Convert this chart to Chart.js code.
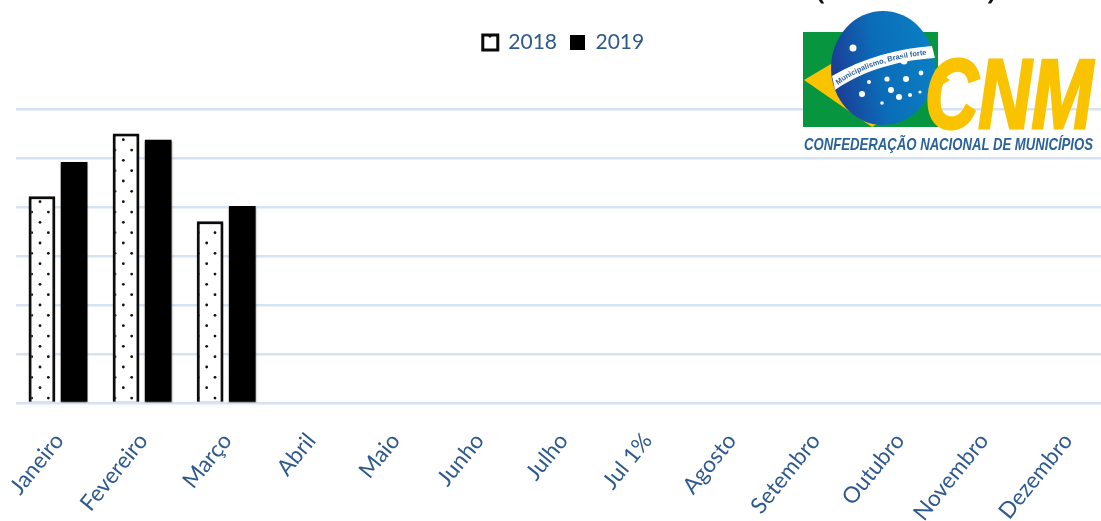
<!DOCTYPE html>
<html lang="pt"><head><meta charset="utf-8">
<style>
html,body{margin:0;padding:0;background:#fff;overflow:hidden}
#wrap{position:relative;width:1101px;height:521px;overflow:hidden}
canvas{position:absolute;left:0;top:0;filter:blur(.45px)}
svg{position:absolute;left:0;top:0;filter:blur(.4px)}
</style>
<script src="https://cdn.jsdelivr.net/npm/chart.js@4"></script>
</head><body>
<div id="wrap">
<canvas id="c" width="1109" height="521"></canvas>
<svg width="1101" height="521" viewBox="0 0 1101 521">
  <defs>
    <linearGradient id="gl" x1="0" x2="1" y1="0.6" y2="0.4">
      <stop offset="0" stop-color="#1c3a94"/><stop offset=".45" stop-color="#0b6cb8"/><stop offset="1" stop-color="#0a7fc4"/>
    </linearGradient>
    <path id="band" d="M838 85 C 862 66 900 57 934 54"/>
  </defs>
  <text x="815" y="-2" font-family="Open Sans" font-size="33" font-weight="600" fill="#111" textLength="182" lengthAdjust="spacingAndGlyphs">(R$ bilhões)</text>
  <rect x="803" y="32" width="135" height="95" fill="#07953f"/>
  <polygon points="804,80 883,33 950,80 872,127" fill="#f9c300"/>
  <ellipse cx="883" cy="68" rx="52" ry="57" fill="url(#gl)"/>
  <path d="M832 76 C 862 58 900 48 932 46 L935 58 C 900 60 864 70 835 90 Z" fill="#fff"/>
  <text font-family="Liberation Sans" font-size="7.4" fill="#2b5f9c" font-weight="700"><textPath href="#band">Municipalismo, Brasil forte</textPath></text>
  <g fill="#fff">
    <circle cx="853" cy="48" r="3.5"/><circle cx="904" cy="61" r="3.5"/><circle cx="869" cy="82" r="2"/>
    <circle cx="887" cy="79" r="2.6"/><circle cx="906" cy="79" r="3"/><circle cx="921" cy="73" r="2.4"/>
    <circle cx="891" cy="90" r="3"/><circle cx="899" cy="97" r="3"/><circle cx="910" cy="95" r="2"/>
    <circle cx="920" cy="92" r="1.6"/><circle cx="862" cy="94" r="3"/><circle cx="882" cy="103" r="1.8"/>
  </g>
  <text x="925" y="128" font-family="Liberation Sans" font-size="99" font-weight="700" font-style="italic" fill="#f9c300" stroke="#f9c300" stroke-width="3" textLength="168" lengthAdjust="spacingAndGlyphs">CNM</text>
  <text x="804" y="150" font-family="Liberation Sans" font-size="17" font-style="italic" font-weight="700" fill="#2a6399" textLength="289" lengthAdjust="spacingAndGlyphs">CONFEDERAÇÃO NACIONAL DE MUNICÍPIOS</text>
</svg>
</div>
<script>
const categories = ["Janeiro","Fevereiro","Março","Abril","Maio","Junho","Julho","Jul 1%","Agosto","Setembro","Outubro","Novembro","Dezembro"];
const values2018 = [4.22,5.5,3.71];
const values2019 = [4.92,5.37,4.02];
const seriesNames = ["2018","2019"];
const yTicks = [0,1,2,3,4,5,6];

function dots(){
  const t=document.createElement('canvas');t.width=50;t.height=62;
  const g=t.getContext('2d');g.fillStyle='#fff';g.fillRect(0,0,50,62);g.fillStyle='#111';
  for(let i=0;i<6;i++){
    const y=15.7+10.33*i;
    for(let k=-1;k<4;k++){
      const x=6.67+(i%2?8.33:0)+16.67*k;
      g.beginPath();g.arc(x,y%62,1.4,0,7);g.fill();
    }
  }
  return g.createPattern(t,'repeat');
}
const ctx=document.getElementById('c').getContext('2d');
const textColor='#2f5a8f';
new Chart(ctx,{
  type:'bar',
  data:{labels:categories,datasets:[
    {label:seriesNames[0],data:values2018,backgroundColor:dots(),borderColor:'#0a0a0a',borderWidth:3,borderSkipped:'bottom'},
    {label:seriesNames[1],data:values2019,backgroundColor:'#000',borderColor:'#000',borderWidth:0}
  ]},
  options:{
    responsive:false,animation:false,
    layout:{padding:{left:16,right:0,top:0,bottom:0},autoPadding:false},
    datasets:{bar:{categoryPercentage:.765,barPercentage:.83}},
    plugins:{
      tooltip:{enabled:false},
      legend:{display:true,position:'top',labels:{boxWidth:15,boxHeight:15,padding:13,color:textColor,font:{family:'Lato',size:21}}}
    },
    scales:{
      x:{offset:true,grid:{display:false},border:{display:false},
        ticks:{color:textColor,font:{family:'Lato',size:22.5},minRotation:51,maxRotation:51,autoSkip:false,padding:17,labelOffset:1},
        afterFit(s){s.height=118;s.paddingLeft=0;s.paddingRight=0;}},
      y:{min:yTicks[0],max:yTicks[yTicks.length-1],afterBuildTicks(s){s.ticks=yTicks.map(v=>({value:v}));},
        grid:{color:'#d6e3f3',lineWidth:2.6,drawTicks:false},border:{display:false},
        ticks:{display:false},afterFit(s){s.width=0;}}
    }
  },
  plugins:[{id:'legendPlace',
    beforeLayout(c){const l=c.legend;if(l&&!l._w){l._w=1;const f=l.fit;l.fit=function(){f.call(this);this.height=109;};}},
    afterLayout(c){const l=c.legend;const dx=1;l.left+=dx;l.right+=dx;l.top=19;l.bottom=128;},
    beforeDatasetsDraw(c){const g=c.ctx;g.save();g.shadowColor='rgba(60,60,60,.55)';g.shadowBlur=2;g.shadowOffsetY=1.5;},
    afterDatasetsDraw(c){c.ctx.restore();}
  }]
});
</script>
</body></html>
